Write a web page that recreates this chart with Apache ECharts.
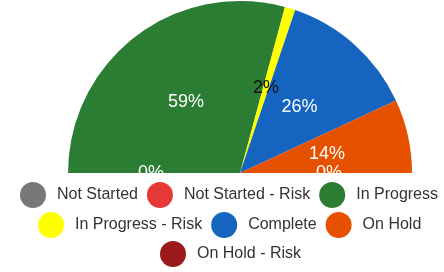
<!DOCTYPE html>
<html>
<head>
<meta charset="utf-8">
<script src="https://cdn.jsdelivr.net/npm/echarts@6/dist/echarts.min.js"></script>
<style>
  html, body { margin: 0; padding: 0; background: #fff; }
  #chart { width: 444px; height: 272px; }
</style>
</head>
<body>
<div id="chart"></div>
<script>
// status categories and their share (percent)
const categories = ['Not Started', 'Not Started - Risk', 'In Progress', 'In Progress - Risk', 'Complete', 'On Hold', 'On Hold - Risk']
const shares = [0, 0, 59, 2, 26, 14, 0]
const colors = ['#777777', '#E53935', '#2A7D32', '#FFFF00', '#1565C0', '#E65100', '#9B1B1B']
const legendRows = [
  ['Not Started', 'Not Started - Risk', 'In Progress'],
  ['In Progress - Risk', 'Complete', 'On Hold'],
  ['On Hold - Risk']
]

const font = 'Liberation Sans, Arial, sans-serif'
const chart = echarts.init(document.getElementById('chart'))

const rowLeft = [20, 38, 160]
const rowTop = [182, 212, 241]

const legends = legendRows.map((row, i) => ({
  data: row,
  left: rowLeft[i],
  top: rowTop[i],
  width: 440,
  padding: 0,
  orient: 'horizontal',
  icon: 'circle',
  itemWidth: 26,
  itemHeight: 26,
  itemGap: 9,
  selectedMode: false,
  z: 200,
  textStyle: { fontFamily: font, fontSize: 16, color: '#333', padding: [0, 0, 0, 6] }
}))

const option = {
  animation: false,
  color: colors,
  legend: legends,
  graphic: [{
    type: 'rect',
    z: 100,
    shape: { x: 0, y: 174, width: 444, height: 100 },
    style: { fill: '#fff' }
  }],
  series: [{
    type: 'pie',
    center: [240, 173],
    radius: [0, 172],
    startAngle: 180,
    endAngle: 0,
    clockwise: true,
    avoidLabelOverlap: false,
    emphasis: { disabled: true },
    label: {
      show: true,
      position: 'inside',
      fontFamily: font,
      fontSize: 18,
      color: '#fff',
      formatter: p => p.value + '%'
    },
    labelLine: { show: false },
    data: categories.map((name, i) => ({
      name: name,
      value: shares[i],
      label: name === 'In Progress - Risk' ? { color: '#111' } : undefined
    }))
  }]
}

chart.setOption(option)
</script>
</body>
</html>
